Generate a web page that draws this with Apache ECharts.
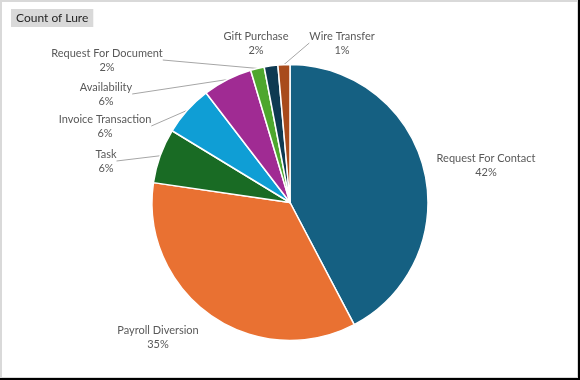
<!DOCTYPE html>
<html>
<head>
<meta charset="utf-8">
<script src="https://cdn.jsdelivr.net/npm/echarts@6/dist/echarts.min.js"></script>
<style>
html,body{margin:0;padding:0;background:#fff;}
#wrap{position:relative;width:580px;height:380px;background:#000;}
#chart{position:absolute;left:0;top:0;width:578px;height:378px;box-sizing:border-box;border:1px solid #d9d9d9;border-top-width:2px;border-left-width:2px;background:#fff;}
</style>
</head>
<body>
<div id="wrap"><div id="chart"></div></div>
<script>
// Data (share of lures)
const categories = ['Request For Contact','Payroll Diversion','Task','Invoice Transaction','Availability','Request For Document','Gift Purchase','Wire Transfer'];
const values = [42.3, 35.0, 6.4, 5.9, 5.8, 1.6, 1.6, 1.4];
const colors = ['#156082','#E97132','#196B24','#0F9ED5','#A02B93','#4EA72E','#0E3A52','#A84B1C'];
const showLeader = [false,false,true,true,true,true,false,true];
const titleText = 'Count of Lure';

// Label placement (layout only)
const labelPos = [[484,163],[156,335],[104,159],[103,124],[104,92],[105,58],[254,41],[340,41]];

const chart = echarts.init(document.getElementById('chart'), null, {renderer:'canvas'});
const seriesData = categories.map((c,i)=>({
  name:c, value:values[i],
  itemStyle:{color:colors[i]},
  labelLine:{show:showLeader[i]}
}));
chart.setOption({
  animation:false,
  title:{
    text:titleText, left:9, top:7,
    backgroundColor:'#d9d9d9', padding:[3,5,3,5],
    textStyle:{fontFamily:'Lato', fontSize:12, fontWeight:'normal', color:'#262626'}
  },
  series:[{
    type:'pie',
    center:[288,200.5],
    radius:138,
    startAngle:90,
    clockwise:true,
    data:seriesData,
    itemStyle:{borderColor:'#fff', borderWidth:1.5},
    label:{
      show:true, position:'outside',
      formatter:p=>p.name+'\n'+Math.round(p.percent)+'%',
      fontFamily:'Lato', fontSize:11, color:'#595959', lineHeight:14, align:'center'
    },
    labelLine:{show:true, length:10, length2:0, smooth:false, lineStyle:{color:'#a6a6a6', width:1}},
    labelLayout:function(params){
      const p = labelPos[params.dataIndex];
      return {x:p[0], y:p[1], align:'center', verticalAlign:'middle', hideOverlap:false};
    }
  }]
});
</script>
</body>
</html>
